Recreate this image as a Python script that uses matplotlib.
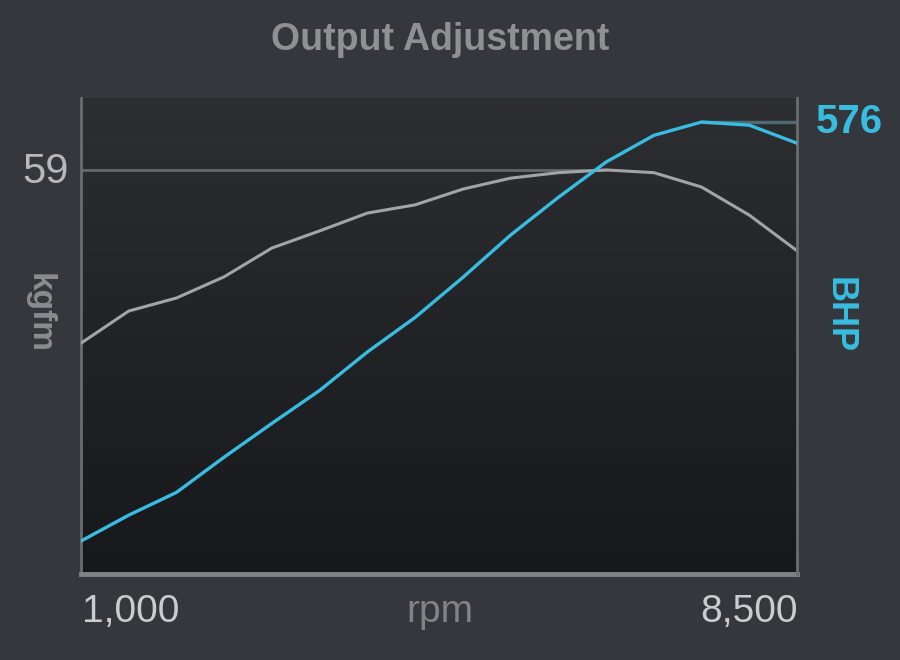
import numpy as np
import matplotlib
matplotlib.use("Agg")
import matplotlib.pyplot as plt
from matplotlib.colors import LinearSegmentedColormap

rpm = [1000, 1500, 2000, 2500, 3000, 3500, 4000, 4500, 5000, 5500, 6000, 6500, 7000, 7500, 8000, 8500]
torque_kgfm = [33.7, 38.4, 40.3, 43.4, 47.6, 50.1, 52.7, 53.9, 56.2, 57.8, 58.6, 59.0, 58.6, 56.5, 52.4, 47.2]
power_bhp = [42, 75, 104, 149, 192, 234, 283, 327, 378, 432, 480, 525, 559, 576, 572, 549]
x_tick_labels = ["1,000", "8,500"]
title = "Output Adjustment"

FIG_BG = "#34373b"
GRAY_LINE = "#a3a4a6"
BLUE = "#38bde0"
FONT = "Liberation Sans"

fig = plt.figure(figsize=(9, 6.6), dpi=100, facecolor=FIG_BG)
ax = fig.add_axes([0.09, 0.1303, 0.7956, 0.7212])
ax.set_xlim(rpm[0], rpm[-1])
ax2 = ax.twinx()
ax2.set_ylim(0, 606.6)

# gradient background (lighter at top)
cmap = LinearSegmentedColormap.from_list("bg", ["#2c2e32", "#17181c"])
grad = np.linspace(0, 1, 256).reshape(-1, 1)
ax.imshow(grad, aspect="auto", cmap=cmap, origin="upper",
          extent=[rpm[0], rpm[-1], 0, 69.5], zorder=0)
ax.set_ylim(0, 69.5)
ax.set_xlim(rpm[0], rpm[-1])

# reference lines
tmax = max(torque_kgfm)
pmax = max(power_bhp)
t_at = rpm[torque_kgfm.index(tmax)]
p_at = rpm[power_bhp.index(pmax)]
ax.plot([rpm[0], t_at], [tmax, tmax], color="#66686b", lw=2, zorder=2, solid_capstyle="butt")
ax2.plot([p_at, rpm[-1]], [pmax, pmax], color="#4f6a70", lw=2.5, zorder=2, solid_capstyle="butt")

ax.plot(rpm, torque_kgfm, color=GRAY_LINE, lw=2.2, zorder=3)
ax2.plot(rpm, power_bhp, color=BLUE, lw=2.4, zorder=3)

for a in (ax, ax2):
    a.set_xticks([])
    a.set_yticks([])
    a.spines["top"].set_visible(False)
ax2.spines["left"].set_visible(False)
ax2.spines["bottom"].set_visible(False)
ax2.spines["right"].set_color("#6b6c6f")
ax2.spines["right"].set_linewidth(2)
ax.spines["right"].set_visible(False)
ax.spines["left"].set_color("#6b6c6f")
ax.spines["left"].set_linewidth(2)
ax.spines["bottom"].set_color("#808285")
ax.spines["bottom"].set_linewidth(3.5)

W, H = 900, 660
def fx(px):
    return px / W
def fy(py):
    return 1 - py / H

fig.text(fx(440), fy(40), title, ha="center", va="center", fontsize=27,
         color="#8e9093", fontweight="bold", family=FONT)
fig.text(fx(46), fy(172), f"{tmax:.0f}", ha="center", va="center", fontsize=30,
         color="#b7b8ba", family=FONT)
fig.text(fx(849), fy(122), f"{pmax:.0f}", ha="center", va="center", fontsize=29,
         color=BLUE, fontweight="bold", family=FONT)
fig.text(fx(39), fy(313), "kgfm", ha="center", va="center", fontsize=24, rotation=-90,
         color="#8a8b8d", fontweight="bold", family=FONT)
fig.text(fx(839), fy(315), "BHP", ha="center", va="center", fontsize=26, rotation=-90,
         color=BLUE, fontweight="bold", family=FONT)
fig.text(fx(82), fy(612), x_tick_labels[0], ha="left", va="center", fontsize=28,
         color="#cbcccd", family=FONT)
fig.text(fx(798), fy(612), x_tick_labels[1], ha="right", va="center", fontsize=28,
         color="#cbcccd", family=FONT)
fig.text(fx(440), fy(612), "rpm", ha="center", va="center", fontsize=28,
         color="#818386", family=FONT)

fig.savefig("out.png", dpi=100, facecolor=FIG_BG)
